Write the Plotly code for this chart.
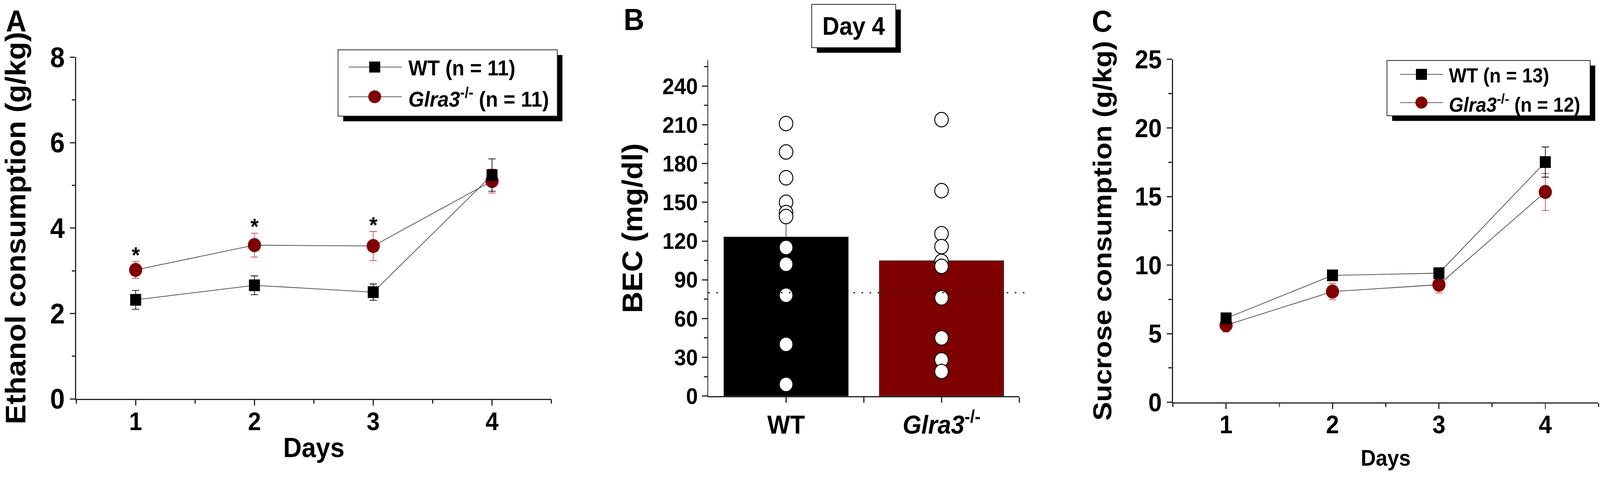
import plotly.graph_objects as go

W, H = 4364, 1285

# ---- panel A: ethanol consumption (g/kg) ----
days = [1, 2, 3, 4]
eth_wt = [2.32, 2.66, 2.50, 5.24]
eth_wt_sem = [0.22, 0.22, 0.19, 0.38]
eth_ko = [3.02, 3.60, 3.58, 5.10]
eth_ko_sem = [0.20, 0.28, 0.34, 0.28]
sig_days = [1, 2, 3]
eth_names = ["WT (n = 11)", "<i>Glra3</i><sup>-/-</sup> (n = 11)"]

# ---- panel B: BEC day 4 (mg/dl) ----
groups = ["WT", "<i>Glra3</i><sup>-/-</sup>"]
bec_mean = [123.1, 104.7]
bec_sem = [17.0, 18.0]
bec_wt = [211, 189, 169, 150, 142, 139, 115, 102, 78, 40, 9]
bec_ko = [214, 159, 125.7, 115.7, 104.3, 100.4, 76, 45, 28, 19]
bec_threshold = 80

# ---- panel C: sucrose consumption (g/kg) ----
suc_wt = [6.12, 9.25, 9.41, 17.51]
suc_wt_sem = [0.30, 0.35, 0.30, 1.10]
suc_ko = [5.62, 8.07, 8.57, 15.33]
suc_ko_sem = [0.50, 0.60, 0.60, 1.35]
suc_names = ["WT (n = 13)", "<i>Glra3</i><sup>-/-</sup> (n = 12)"]

FAM = "Liberation Sans, Arial, sans-serif"
RED = "#800000"
RED_ERR = "#cc4444"
AXC = "#222222"
LINEC = "#444444"


def px_x(v):
    return v / W


def px_y(v):
    return 1 - v / H


def f(size, italic=False):
    return dict(family=FAM, size=size, color="black", weight="bold",
                style="italic" if italic else "normal")


fig = go.Figure()


def group_traces(xa, ya, wt, wt_sem, ko, ko_sem, names):
    # knockout first so the WT squares sit on top
    fig.add_trace(go.Scatter(
        x=days, y=ko, mode="lines+markers", name=names[1],
        line=dict(color=LINEC, width=1.8),
        marker=dict(symbol="circle", size=36, color=RED),
        error_y=dict(type="data", array=ko_sem, color=RED_ERR, thickness=1.8, width=10),
        xaxis=xa, yaxis=ya, showlegend=False))
    fig.add_trace(go.Scatter(
        x=days, y=wt, mode="lines+markers", name=names[0],
        line=dict(color=LINEC, width=1.8),
        marker=dict(symbol="square", size=30, color="black"),
        error_y=dict(type="data", array=wt_sem, color="black", thickness=1.8, width=10),
        xaxis=xa, yaxis=ya, showlegend=False))


group_traces("x", "y", eth_wt, eth_wt_sem, eth_ko, eth_ko_sem, eth_names)

# panel B traces
xpos = list(range(len(groups)))
fig.add_trace(go.Bar(
    x=xpos, y=bec_mean, width=0.8,
    marker=dict(color=["black", "#7f0000"], line=dict(color="#222222", width=1.5)),
    error_y=dict(type="data", array=bec_sem, arrayminus=[0, 0], symmetric=False,
                 color="#333333", thickness=1.8, width=0),
    xaxis="x2", yaxis="y2", showlegend=False))
for i, pts in enumerate([bec_wt, bec_ko]):
    fig.add_trace(go.Scatter(
        x=[xpos[i]] * len(pts), y=pts, mode="markers",
        marker=dict(symbol="circle", size=37, color="white",
                    line=dict(color="black", width=2.5)),
        xaxis="x2", yaxis="y2", showlegend=False))

group_traces("x3", "y3", suc_wt, suc_wt_sem, suc_ko, suc_ko_sem, suc_names)

axis_common = dict(showline=True, linecolor=AXC, linewidth=3, ticks="outside",
                   tickcolor=AXC, tickwidth=3, ticklen=14, showgrid=False,
                   zeroline=False, fixedrange=True)
minor_common = dict(ticks="outside", ticklen=9, tickcolor=AXC, tickwidth=3, showgrid=False)

fig.update_layout(
    width=W, height=H, margin=dict(l=0, r=0, t=0, b=0),
    paper_bgcolor="white", plot_bgcolor="white",
    font=dict(family=FAM, color="black"),
    showlegend=False,
    xaxis=dict(axis_common, domain=[px_x(208), px_x(1504)], range=[0.5, 4.5],
               tickmode="linear", tick0=1, dtick=1, anchor="y", ticklabelstandoff=-14,
               minor=dict(minor_common, tick0=0.5, dtick=0.5),
               tickfont=f(64), title=dict(text="Days", font=f(70), standoff=8)),
    yaxis=dict(axis_common, domain=[px_y(1089), px_y(156)], range=[0, 8],
               tickmode="linear", tick0=0, dtick=2, anchor="x",
               minor=dict(minor_common, tick0=0, dtick=1),
               tickfont=f(72),
               title=dict(text="Ethanol consumption (g/kg)", font=f(76), standoff=56)),
    xaxis2=dict(axis_common, domain=[px_x(1932), px_x(2780)], range=[-0.5, 1.5],
                tickmode="array", tickvals=xpos, ticktext=groups, anchor="y2",
                minor=dict(minor_common, tickmode="array", tickvals=[0.5, 1.5], ticklen=14),
                tickfont=f(66)),
    yaxis2=dict(axis_common, domain=[px_y(1081), px_y(164.5)], range=[0, 260],
                tickmode="linear", tick0=0, dtick=30, anchor="x2",
                minor=dict(minor_common, tick0=0, dtick=15),
                tickfont=f(58),
                title=dict(text="BEC (mg/dl)", font=f(76), standoff=30)),
    xaxis3=dict(axis_common, domain=[px_x(3199), px_x(4360)], range=[0.5, 4.5],
                tickmode="linear", tick0=1, dtick=1, anchor="y3", ticklabelstandoff=-14,
                minor=dict(minor_common, tick0=0.5, dtick=0.5),
                tickfont=f(64), title=dict(text="Days", font=f(57), standoff=30)),
    yaxis3=dict(axis_common, domain=[px_y(1098), px_y(162)], range=[0, 25],
                tickmode="linear", tick0=0, dtick=5, anchor="x3",
                minor=dict(minor_common, tick0=0, dtick=2.5),
                tickfont=f(66),
                title=dict(text="Sucrose consumption (g/kg)", font=f(72), standoff=40)),
)


def boxed(x0, y0, x1, y1, off=14):
    # white framed box with a solid black drop shadow (pixel coordinates)
    fig.add_shape(type="rect", xref="paper", yref="paper",
                  x0=px_x(x0 + off), x1=px_x(x1 + off), y0=px_y(y1 + off), y1=px_y(y0 + off),
                  fillcolor="black", line=dict(width=0), layer="above")
    fig.add_shape(type="rect", xref="paper", yref="paper",
                  x0=px_x(x0), x1=px_x(x1), y0=px_y(y1), y1=px_y(y0),
                  fillcolor="white", line=dict(color="#222222", width=2), layer="above")


def key_row(lx0, lx1, mx, ty, y, symbol, msize, color, text, fsize):
    # one legend row: line, marker glyph and label (pixel coordinates)
    fig.add_shape(type="line", xref="paper", yref="paper",
                  x0=px_x(lx0), x1=px_x(lx1), y0=px_y(y), y1=px_y(y),
                  line=dict(color=LINEC, width=1.8), layer="above")
    h = msize / 2
    fig.add_shape(type="rect" if symbol == "square" else "circle",
                  xref="paper", yref="paper",
                  x0=px_x(mx - h), x1=px_x(mx + h), y0=px_y(y + h), y1=px_y(y - h),
                  fillcolor=color, line=dict(width=0), layer="above")
    fig.add_annotation(text=text, xref="paper", yref="paper", x=px_x(ty), y=px_y(y + 3),
                       xanchor="left", yanchor="middle", showarrow=False, font=f(fsize))


boxed(922, 136, 1520, 317)
key_row(951, 1096, 1022, 1112, 183, "square", 30, "black", eth_names[0], 55)
key_row(951, 1096, 1022, 1112, 264, "circle", 35, RED, eth_names[1], 55)

boxed(3783, 165, 4337, 316)
key_row(3819, 3936, 3877, 3950, 203, "square", 30, "black", suc_names[0], 51)
key_row(3819, 3936, 3877, 3950, 280, "circle", 33, RED, suc_names[1], 51)

boxed(2214, 12, 2443, 130)
fig.add_annotation(text="Day 4", xref="paper", yref="paper", x=px_x(2328), y=px_y(71),
                   xanchor="center", yanchor="middle", showarrow=False, font=f(64))

# BEC threshold line
fig.add_shape(type="line", xref="x2 domain", yref="y2", x0=0, x1=1.037,
              y0=bec_threshold, y1=bec_threshold,
              line=dict(color="black", width=3, dash="4px,18px"), layer="above")

for lab, lx, ly in [("A", 14, 8), ("B", 1699, 4), ("C", 2976, 8)]:
    fig.add_annotation(text=lab, xref="paper", yref="paper", x=px_x(lx), y=px_y(ly),
                       xanchor="left", yanchor="top", showarrow=False, font=f(78))

for d in sig_days:
    i = days.index(d)
    fig.add_annotation(text="*", xref="x", yref="y", x=d, y=eth_ko[i] + eth_ko_sem[i],
                       yanchor="middle", yshift=17, showarrow=False, font=f(58))

# stretch the fixed-size figure onto whatever viewport the page is opened in
fit_js = """
document.documentElement.style.margin = '0';
document.body.style.margin = '0';
document.documentElement.style.overflow = 'hidden';
document.body.style.overflow = 'hidden';
var gd = document.getElementById('{plot_id}');
var sx = window.innerWidth / %d, sy = window.innerHeight / %d;
gd.style.transformOrigin = '0 0';
gd.style.transform = 'translate(0px, -40px) scale(' + sx + ',' + sy + ')';
""" % (W, H)

fig.write_html("out.html", post_script=fit_js, config={"displayModeBar": False})
